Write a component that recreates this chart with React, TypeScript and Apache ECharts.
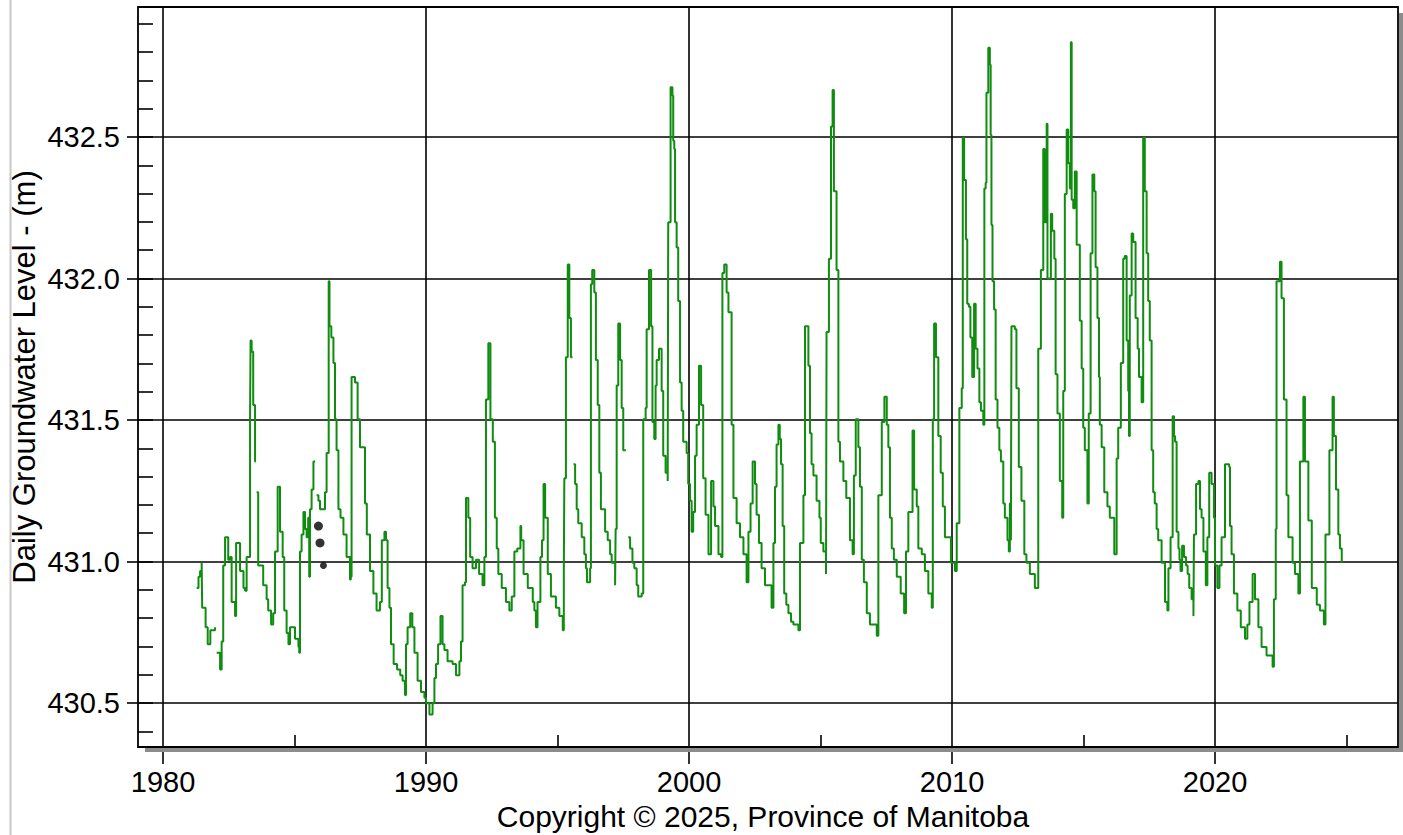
import React, { useEffect, useRef } from "react";
import * as echarts from "echarts";

// ---- data (decimal year, daily groundwater level in m) ----
const level1980s: [number, number | null][] = [
  [1981.28,430.91],[1981.35,430.95],[1981.41,430.97],[1981.47,431.00],[1981.49,430.84],[1981.62,430.77],[1981.70,430.71],[1981.80,430.76],[1981.98,430.77],[1982.0,null],
  [1982.04,430.68],[1982.17,430.62],[1982.23,430.72],[1982.29,430.99],[1982.36,431.09],[1982.48,431.01],[1982.55,431.02],[1982.61,430.86],[1982.74,430.81],[1982.78,431.07],
  [1982.87,431.07],[1982.93,430.97],[1983.06,430.91],[1983.12,430.90],[1983.18,431.02],[1983.31,431.52],[1983.33,431.79],[1983.37,431.75],[1983.43,431.56],[1983.50,431.36],[1983.53,null],
  [1983.56,431.25],[1983.62,430.99],[1983.81,430.92],[1983.94,430.87],[1984.00,430.83],[1984.11,430.78],[1984.19,430.82],[1984.26,431.04],[1984.36,431.27],[1984.45,431.11],
  [1984.55,431.02],[1984.61,430.83],[1984.70,430.75],[1984.77,430.71],[1984.83,430.77],[1984.92,430.77],[1985.02,430.73],[1985.15,430.70],[1985.18,430.68],[1985.21,431.04],
  [1985.27,431.10],[1985.34,431.18],[1985.40,431.12],[1985.46,431.09],[1985.52,431.16],[1985.56,430.95],[1985.59,431.19],[1985.65,431.26],[1985.72,431.36],[1985.78,null],
  [1985.84,431.24],[1985.91,431.22],[1985.97,431.19],[1986.16,431.25],[1986.22,431.39],[1986.30,432.00],[1986.33,431.84],[1986.40,431.80],[1986.48,431.71],[1986.54,431.51],
  [1986.60,431.40],[1986.67,431.19],[1986.75,431.16],[1986.86,431.10],[1986.98,431.02],[1987.11,430.94],[1987.14,430.95],[1987.17,431.66],[1987.24,431.66],[1987.30,431.64],
  [1987.40,431.51],[1987.49,431.41],[1987.68,431.21],[1987.75,431.10],[1987.87,430.97],[1988.00,430.89],[1988.12,430.83],[1988.25,430.86],[1988.32,431.08],[1988.42,431.11],
  [1988.48,431.08],[1988.54,430.91],[1988.61,430.84],[1988.67,430.71],[1988.77,430.64],[1988.90,430.62],[1989.02,430.60],[1989.11,430.58],[1989.20,430.53],[1989.24,430.71],
  [1989.30,430.77],[1989.40,430.82],[1989.48,430.77],[1989.56,430.68],[1989.68,430.58],[1989.81,430.54],[1989.94,430.52],
];

const level1990s: [number, number | null][] = [
  [1990.00,430.50],[1990.13,430.46],[1990.25,430.50],[1990.32,430.59],[1990.38,430.64],[1990.46,430.71],[1990.55,430.81],[1990.63,430.71],[1990.70,430.69],[1990.82,430.65],
  [1991.01,430.64],[1991.14,430.60],[1991.27,430.65],[1991.33,430.72],[1991.39,430.92],[1991.48,430.93],[1991.52,431.23],[1991.61,431.16],[1991.68,431.02],[1991.77,430.98],
  [1991.90,431.01],[1992.02,430.96],[1992.15,430.92],[1992.22,431.02],[1992.28,431.58],[1992.37,431.78],[1992.45,431.51],[1992.54,431.43],[1992.62,431.16],[1992.69,431.05],
  [1992.75,430.96],[1992.88,430.91],[1993.04,430.86],[1993.17,430.83],[1993.26,430.88],[1993.36,431.04],[1993.47,431.05],[1993.59,431.13],[1993.62,431.08],[1993.71,430.96],
  [1993.87,430.91],[1994.06,430.86],[1994.12,430.83],[1994.18,430.77],[1994.24,430.86],[1994.35,431.02],[1994.41,431.08],[1994.47,431.28],[1994.53,431.16],[1994.63,430.96],
  [1994.75,430.88],[1994.94,430.84],[1995.07,430.81],[1995.20,430.76],[1995.24,430.96],[1995.26,431.30],[1995.32,431.73],[1995.39,432.06],[1995.45,431.87],[1995.51,431.73],[1995.57,null],
  [1995.61,431.35],[1995.67,431.28],[1995.73,431.19],[1995.79,431.14],[1995.92,431.09],[1996.02,431.03],[1996.08,430.98],[1996.12,430.93],[1996.24,430.98],[1996.27,431.99],
  [1996.32,432.04],[1996.40,431.96],[1996.46,431.72],[1996.53,431.56],[1996.59,431.32],[1996.65,431.19],[1996.81,431.11],[1996.91,431.08],[1997.00,431.03],[1997.06,431.00],
  [1997.19,430.92],[1997.21,431.12],[1997.25,431.63],[1997.31,431.85],[1997.38,431.72],[1997.44,431.55],[1997.50,431.40],[1997.60,null],[1997.69,431.09],[1997.76,431.05],
  [1997.85,431.00],[1997.92,430.98],[1998.01,430.92],[1998.07,430.88],[1998.20,430.89],[1998.26,431.51],[1998.35,431.55],[1998.39,431.83],[1998.48,432.04],[1998.56,431.84],
  [1998.61,431.50],[1998.68,431.44],[1998.73,431.63],[1998.77,431.72],[1998.86,431.76],[1998.96,431.61],[1999.02,431.38],[1999.11,431.32],[1999.19,431.29],[1999.21,432.21],
  [1999.30,432.69],[1999.37,432.66],[1999.40,432.50],[1999.44,432.47],[1999.47,432.21],[1999.53,432.12],[1999.59,431.93],[1999.66,431.64],[1999.72,431.54],[1999.78,431.43],
  [1999.91,431.39],[1999.97,431.28],
];

const level2000s: [number, number | null][] = [
  [2000.04,431.22],[2000.10,431.11],[2000.16,431.18],[2000.23,431.38],[2000.29,431.49],[2000.38,431.70],[2000.46,431.56],[2000.54,431.30],[2000.63,431.17],[2000.74,431.03],
  [2000.84,431.29],[2000.93,431.20],[2000.99,431.13],[2001.12,431.03],[2001.22,431.02],[2001.27,432.03],[2001.34,432.06],[2001.43,431.96],[2001.50,431.89],[2001.62,431.49],
  [2001.69,431.23],[2001.81,431.14],[2001.94,431.09],[2002.07,431.03],[2002.19,430.93],[2002.26,431.11],[2002.34,431.21],[2002.42,431.36],[2002.51,431.28],[2002.57,431.17],
  [2002.66,431.07],[2002.76,430.98],[2002.89,430.92],[2003.14,430.84],[2003.21,431.07],[2003.27,431.27],[2003.33,431.42],[2003.40,431.49],[2003.45,431.44],[2003.50,431.35],
  [2003.56,431.13],[2003.62,430.89],[2003.70,430.85],[2003.78,430.82],[2003.88,430.79],[2003.97,430.78],[2004.16,430.76],[2004.22,431.07],[2004.35,431.24],[2004.41,431.84],
  [2004.54,431.70],[2004.60,431.46],[2004.66,431.35],[2004.73,431.31],[2004.85,431.22],[2004.96,431.16],[2005.01,431.07],[2005.11,431.04],[2005.21,430.96],[2005.23,431.82],
  [2005.32,432.08],[2005.40,432.55],[2005.46,432.68],[2005.51,432.32],[2005.61,432.04],[2005.68,431.43],[2005.74,431.36],[2005.87,431.29],[2005.98,431.23],[2006.12,431.08],
  [2006.22,431.03],[2006.27,431.31],[2006.34,431.51],[2006.44,431.41],[2006.50,431.27],[2006.57,431.01],[2006.65,430.93],[2006.76,430.82],[2006.88,430.78],[2007.14,430.74],
  [2007.20,431.24],[2007.33,431.50],[2007.43,431.59],[2007.52,431.49],[2007.58,431.41],[2007.64,431.16],[2007.71,431.05],[2007.79,431.01],[2007.90,430.95],[2008.05,430.89],
  [2008.18,430.82],[2008.25,431.04],[2008.34,431.18],[2008.50,431.47],[2008.56,431.26],[2008.66,431.20],[2008.72,431.05],[2008.85,431.03],[2008.97,430.97],[2009.10,430.89],
  [2009.23,430.84],[2009.27,431.51],[2009.32,431.85],[2009.39,431.73],[2009.48,431.45],[2009.57,431.32],[2009.65,431.20],[2009.73,431.09],[2009.86,431.09],[2009.96,431.00],
];

const level2010s: [number, number | null][] = [
  [2010.11,430.97],[2010.18,431.14],[2010.28,431.55],[2010.37,431.62],[2010.41,432.51],[2010.46,432.36],[2010.53,432.15],[2010.58,431.92],[2010.64,431.91],[2010.70,431.80],
  [2010.77,431.66],[2010.84,431.92],[2010.90,431.76],[2010.97,431.69],[2011.04,431.57],[2011.10,431.54],[2011.19,431.49],[2011.23,432.33],[2011.28,432.35],[2011.31,432.67],
  [2011.38,432.83],[2011.44,432.77],[2011.47,432.52],[2011.50,432.20],[2011.54,432.00],[2011.60,431.90],[2011.66,431.58],[2011.73,431.48],[2011.80,431.40],[2011.86,431.36],
  [2011.95,431.21],[2012.01,431.16],[2012.11,431.08],[2012.16,431.04],[2012.20,431.21],[2012.24,431.08],[2012.26,431.84],[2012.39,431.83],[2012.45,431.62],[2012.54,431.34],
  [2012.64,431.22],[2012.75,431.03],[2012.83,431.00],[2012.96,430.96],[2013.15,430.91],[2013.25,430.91],[2013.28,431.76],[2013.38,432.04],[2013.47,432.47],[2013.53,432.21],
  [2013.60,432.56],[2013.63,432.01],[2013.76,432.24],[2013.81,432.18],[2013.89,432.08],[2013.94,431.67],[2014.01,431.53],[2014.10,431.29],[2014.19,431.16],[2014.23,431.61],
  [2014.29,432.31],[2014.36,432.54],[2014.42,432.42],[2014.48,432.33],[2014.52,432.85],[2014.55,432.29],[2014.61,432.26],[2014.67,432.39],[2014.74,432.13],[2014.86,431.86],
  [2014.93,431.69],[2014.99,431.48],[2015.05,431.40],[2015.15,431.21],[2015.20,431.53],[2015.27,432.10],[2015.34,432.38],[2015.41,432.32],[2015.46,432.05],[2015.53,431.87],
  [2015.59,431.66],[2015.62,431.49],[2015.69,431.41],[2015.79,431.25],[2015.91,431.20],[2016.00,431.16],[2016.17,431.03],[2016.26,431.37],[2016.32,431.48],[2016.42,431.71],
  [2016.51,432.08],[2016.57,432.09],[2016.64,431.79],[2016.70,431.61],[2016.73,431.45],[2016.76,431.95],[2016.83,432.17],[2016.89,432.14],[2016.98,431.87],[2017.06,431.76],
  [2017.11,431.66],[2017.21,431.57],[2017.27,432.51],[2017.33,432.32],[2017.40,432.10],[2017.46,431.93],[2017.52,431.79],[2017.59,431.40],[2017.65,431.25],[2017.71,431.21],
  [2017.78,431.12],[2017.84,431.08],[2017.97,431.00],[2018.10,430.86],[2018.19,430.83],[2018.23,430.98],[2018.31,431.09],[2018.39,431.52],[2018.44,431.45],[2018.48,431.43],
  [2018.54,431.11],[2018.61,431.05],[2018.65,431.01],[2018.69,430.97],[2018.75,431.06],[2018.82,431.02],[2018.90,430.99],[2018.96,430.96],[2019.02,430.91],[2019.11,430.87],
  [2019.18,430.81],[2019.20,431.10],[2019.28,431.28],[2019.37,431.29],[2019.43,431.19],[2019.49,431.16],[2019.56,431.04],[2019.65,430.92],[2019.71,431.09],[2019.78,431.32],
  [2019.87,431.28],[2019.96,431.16],
];

const level2020s: [number, number | null][] = [
  [2020.00,430.99],[2020.09,430.91],[2020.17,430.99],[2020.25,431.09],[2020.38,431.35],[2020.54,431.34],[2020.57,431.13],[2020.63,431.03],[2020.72,430.89],[2020.85,430.83],
  [2020.98,430.77],[2021.14,430.73],[2021.23,430.78],[2021.31,430.86],[2021.43,430.96],[2021.52,430.87],[2021.65,430.77],[2021.77,430.70],[2021.96,430.67],[2022.19,430.63],
  [2022.24,430.87],[2022.31,431.12],[2022.34,432.00],[2022.47,432.07],[2022.53,431.94],[2022.62,431.58],[2022.72,431.24],[2022.79,431.09],[2022.95,431.00],[2023.04,430.96],
  [2023.17,430.89],[2023.23,431.36],[2023.36,431.59],[2023.42,431.36],[2023.55,431.15],[2023.68,430.91],[2023.87,430.85],[2023.99,430.83],[2024.14,430.78],[2024.20,431.10],
  [2024.35,431.40],[2024.47,431.59],[2024.52,431.45],[2024.60,431.26],[2024.69,431.10],[2024.75,431.05],[2024.82,431.00],
];

// manual (spot) readings shown as black dots
const manualYears = [1985.91, 1985.97, 1986.1];
const manualLevels = [431.13, 431.07, 430.99];
const manualSizes = [9, 9, 7];

// axis ranges / tick settings
const xMajor = { min: 1980, max: 2020, step: 10 };
const xMinor = { min: 1985, max: 2025, step: 10 };
const yMajor = { min: 430.5, max: 432.5, step: 0.5 };
const yMinor = { min: 430.4, max: 432.9, step: 0.1 };
const xData = { min: 1980, max: 2027 };
const yData = { min: 430.3, max: 433.0 };

const yTitle = "Daily Groundwater Level - (m)";
const xTitle = "Copyright \u00a9 2025, Province of Manitoba";

// ---- layout (pixels) ----
const FRAME = { x: 138, y: 7, w: 1260, h: 740 };
const X1980 = 163;
const PX_PER_YEAR = 26.3;
const Y4325 = 137;
const PX_PER_M = 283;
const FONT = '"Liberation Sans", Arial, sans-serif';

const xPix = (yr: number) => X1980 + (yr - 1980) * PX_PER_YEAR;
const yPix = (v: number) => Y4325 + (432.5 - v) * PX_PER_M;

export default function App() {
  const ref = useRef<HTMLDivElement>(null);

  useEffect(() => {
    if (!ref.current) return;
    const chart = echarts.init(ref.current, null, { renderer: "svg" });

    const series = [...level1980s, ...level1990s, ...level2000s, ...level2010s, ...level2020s].map(
      ([x, y]) => (y === null ? [x, "-"] : [x, y])
    );
    const manual = manualYears.map((x, i) => ({
      value: [x, manualLevels[i]],
      symbolSize: manualSizes[i],
    }));

    const grids = [
      // 0: x major (gridlines, labels)
      { left: xPix(xMajor.min), width: xPix(xMajor.max) - xPix(xMajor.min), top: FRAME.y, height: FRAME.h },
      // 1: y major
      { left: FRAME.x, width: FRAME.w, top: yPix(yMajor.max), height: yPix(yMajor.min) - yPix(yMajor.max) },
      // 2: x minor
      { left: xPix(xMinor.min), width: xPix(xMinor.max) - xPix(xMinor.min), top: FRAME.y, height: FRAME.h },
      // 3: y minor
      { left: FRAME.x, width: FRAME.w, top: yPix(yMinor.max), height: yPix(yMinor.min) - yPix(yMinor.max) },
      // 4: data
      { left: xPix(xData.min), width: xPix(xData.max) - xPix(xData.min), top: yPix(yData.max), height: yPix(yData.min) - yPix(yData.max) },
    ];

    const hidden = { show: false };
    const axLine = { color: "#000", width: 1.6 };
    const labelStyle = { color: "#000", fontSize: 29, fontFamily: FONT };

    const option: any = {
      animation: false,
      backgroundColor: "#fff",
      grid: grids,
      xAxis: [
        {
          gridIndex: 0, type: "value", min: xMajor.min, max: xMajor.max, interval: xMajor.step, position: "bottom",
          axisLine: hidden,
          axisTick: { show: true, length: 17, lineStyle: axLine },
          axisLabel: { ...labelStyle, margin: 20, formatter: (v: number) => String(Math.round(v)) },
          splitLine: { show: true, lineStyle: axLine },
        },
        { gridIndex: 1, type: "value", min: 0, max: 1, show: false },
        {
          gridIndex: 2, type: "value", min: xMinor.min, max: xMinor.max, interval: xMinor.step, position: "bottom",
          axisLine: hidden,
          axisTick: { show: true, inside: true, length: 12, lineStyle: axLine },
          axisLabel: hidden, splitLine: hidden,
        },
        { gridIndex: 3, type: "value", min: 0, max: 1, show: false },
        { gridIndex: 4, type: "value", min: xData.min, max: xData.max, show: false },
      ],
      yAxis: [
        { gridIndex: 0, type: "value", min: 0, max: 1, show: false },
        {
          gridIndex: 1, type: "value", min: yMajor.min, max: yMajor.max, interval: yMajor.step, position: "left",
          axisLine: hidden,
          axisTick: { show: true, length: 11, lineStyle: axLine },
          axisLabel: { ...labelStyle, margin: 18, formatter: (v: number) => v.toFixed(1) },
          splitLine: { show: true, lineStyle: axLine },
        },
        { gridIndex: 2, type: "value", min: 0, max: 1, show: false },
        {
          gridIndex: 3, type: "value", min: yMinor.min, max: yMinor.max, interval: yMinor.step, position: "left",
          axisLine: hidden,
          axisTick: { show: true, inside: true, length: 15, lineStyle: axLine },
          axisLabel: hidden, splitLine: hidden,
        },
        { gridIndex: 4, type: "value", min: yData.min, max: yData.max, show: false },
      ],
      series: [
        {
          type: "line", xAxisIndex: 4, yAxisIndex: 4, data: series, symbol: "none", showSymbol: false,
          step: "end", clip: false, connectNulls: false, z: 3,
          lineStyle: { color: "#108c10", width: 2 },
        },
        {
          type: "scatter", xAxisIndex: 4, yAxisIndex: 4, data: manual, clip: false, z: 4,
          itemStyle: { color: "#000" },
        },
      ],
      graphic: [
        // left page border
        { type: "line", shape: { x1: 10.5, y1: 0, x2: 10.5, y2: 835 }, style: { stroke: "#c8c8c8", lineWidth: 2 }, z: 1 },
        // frame shadow
        { type: "rect", shape: { x: FRAME.x + 7, y: FRAME.y + FRAME.h + 1, width: FRAME.w - 4, height: 4 }, style: { fill: "#8c8c8c" }, z: 1 },
        { type: "rect", shape: { x: FRAME.x + FRAME.w + 1, y: FRAME.y + 6, width: 4, height: FRAME.h - 1 }, style: { fill: "#8c8c8c" }, z: 1 },
        // frame
        { type: "rect", shape: { x: FRAME.x, y: FRAME.y, width: FRAME.w, height: FRAME.h }, style: { fill: "none", stroke: "#000", lineWidth: 1.8 }, z: 20 },
        // titles
        {
          type: "text", x: 24, y: 377, rotation: Math.PI / 2,
          style: { text: yTitle, font: `31px ${FONT}`, fill: "#000", align: "center", verticalAlign: "middle", textAlign: "center", textVerticalAlign: "middle" },
          z: 20,
        },
        {
          type: "text", x: 763, y: 816,
          style: { text: xTitle, font: `30px ${FONT}`, fill: "#000", align: "center", verticalAlign: "middle", textAlign: "center", textVerticalAlign: "middle" },
          z: 20,
        },
      ],
    };

    chart.setOption(option);
    return () => chart.dispose();
  }, []);

  return (
    <div
      ref={ref}
      style={{ position: "fixed", left: 0, top: 0, width: 1403, height: 835, background: "#fff" }}
    />
  );
}
